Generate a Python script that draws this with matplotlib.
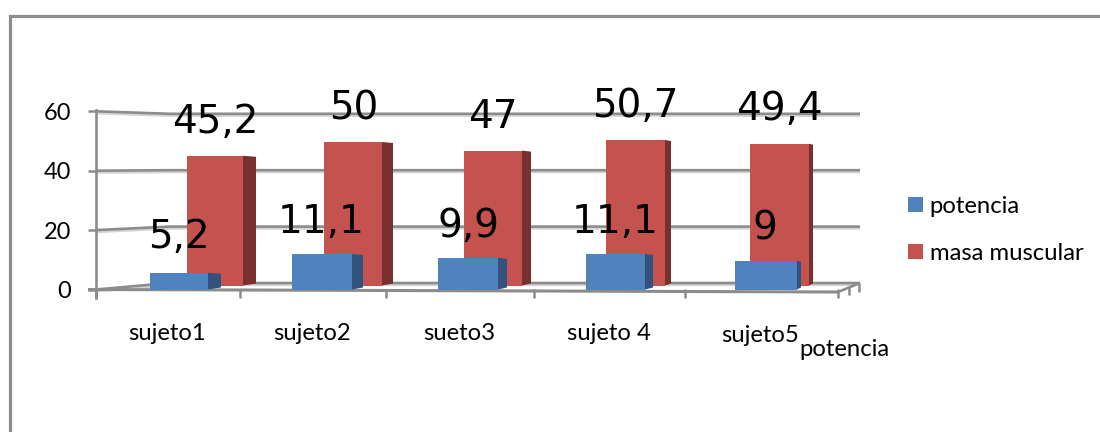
import matplotlib
matplotlib.use("Agg")
import matplotlib.pyplot as plt
from matplotlib.patches import Polygon

# Chart values
subjects = ["sujeto1", "sujeto2", "sueto3", "sujeto 4", "sujeto5"]
potencia = [5.2, 11.1, 9.9, 11.1, 9]
masa_muscular = [45.2, 50, 47, 50.7, 49.4]
potencia_labels = ["5,2", "11,1", "9,9", "11,1", "9"]
masa_labels = ["45,2", "50", "47", "50,7", "49,4"]
y_ticks = [0, 20, 40, 60]

# Layout, in figure pixels measured from the top-left corner
W, H = 1100, 432
BLUE_X = [(150, 208, 221), (292, 352, 363), (438, 498, 507), (586, 645, 653), (735, 797, 801)]
RED_X = [(187, 243, 256), (324, 382, 393), (464, 522, 531), (606, 665, 671), (750, 809, 813)]
BLUE_ZERO, BLUE_SCALE = 289.5, 3.2
RED_ZERO, RED_SCALE = 285.5, 2.87
WALL_ZERO, WALL_SCALE = 283.0, 2.82
FRONT_ZERO, FRONT_SCALE = 289.5, 2.97
X_TICKS = [96, 240, 386, 534, 685, 838]
POT_LABEL_POS = [(179, 248), (321, 233), (468, 237), (615, 233), (765, 240)]
MASA_LABEL_POS = [(215, 133), (354, 120), (493, 128), (635, 117), (779, 120)]
SUBJECT_POS = [(167, 340), (312, 340), (459, 340), (609, 340), (760, 342)]

BLUE, BLUE_DARK = "#5082BE", "#30527D"
RED, RED_DARK = "#C4524F", "#78302E"
GREY, GREY_LIGHT = "#8C8C8C", "#D4D4D4"
UI_FONT = "Lato"
LABEL_FONT = "DejaVu Sans"

fig = plt.figure(figsize=(W / 100, H / 100), dpi=100, facecolor="white")


def layer(zero, scale, zorder):
    """Full-figure axes: x in pixels, y in chart units with the given pixel baseline."""
    ax = fig.add_axes([0, 0, 1, 1], zorder=zorder)
    ax.patch.set_visible(False)
    ax.set_xlim(0, W)
    ax.set_ylim((zero - H) / scale, zero / scale)
    return ax


# Top layer works in plain pixels, for the frame, labels and legend
ax_px = fig.add_axes([0, 0, 1, 1], zorder=4)
ax_px.patch.set_visible(False)
ax_px.set_xlim(0, W)
ax_px.set_ylim(H, 0)
ax_px.axis("off")

# Outer frame
ax_px.plot([9.5, 9.5, W], [H, 16, 16], color=GREY, lw=2.3, solid_joinstyle="miter", clip_on=False)

# Wall layer: value axis, gridlines, floor
ax_wall = layer(FRONT_ZERO, FRONT_SCALE, 1)
px = ax_px.transData


def wall_line(xs, ys, color=GREY, lw=1.9):
    ax_wall.plot(xs, ys, color=color, lw=lw, transform=px, solid_capstyle="butt", clip_on=False)


for v in y_ticks:
    yf = FRONT_ZERO - FRONT_SCALE * v
    yb = WALL_ZERO - WALL_SCALE * v
    xs = [96, 170, 860]
    wall_line(xs, [yf + 2, yb + 2, yb + 2], color=GREY_LIGHT, lw=1.6)
    wall_line(xs, [yf, yb, yb])

# Floor: front edge, right edge and tick marks
wall_line([88, 838], [289.5, 292], lw=2.2)
wall_line([838, 860], [292, 283], lw=1.9)
for x in X_TICKS:
    wall_line([x, x], [289, 298], lw=1.8)
for x, y0, y1 in [(849, 287, 295), (859, 283, 292)]:
    wall_line([x, x], [y0, y1], lw=1.8)

for side in ("top", "right", "bottom"):
    ax_wall.spines[side].set_visible(False)
ax_wall.spines["left"].set_position(("data", 96))
ax_wall.spines["left"].set_color(GREY)
ax_wall.spines["left"].set_linewidth(1.9)
ax_wall.spines["left"].set_bounds((FRONT_ZERO - 298) / FRONT_SCALE, (FRONT_ZERO - 110) / FRONT_SCALE)
ax_wall.set_xticks([])
ax_wall.set_yticks(y_ticks)
ax_wall.tick_params(axis="y", length=5.8, width=1.8, color=GREY, pad=12, labelsize=17)
for t in ax_wall.get_yticklabels():
    t.set_fontfamily(UI_FONT)


def bars_3d(ax, spans, values, scale, face, side, label, lift):
    """Front faces go through ax.bar; the shaded side is a sheared polygon beside each one."""
    lefts = [s[0] for s in spans]
    widths = [s[1] - s[0] for s in spans]
    cont = ax.bar(lefts, values, widths, align="edge", color=face, linewidth=0, label=label)
    for (_, right, far), v in zip(spans, values):
        dy = lift / scale
        ax.add_patch(Polygon(
            [(right, 0), (far, dy), (far, v - 1 / scale), (right, v)],
            closed=True, facecolor=side, edgecolor="none"))
    return cont


ax_red = layer(RED_ZERO, RED_SCALE, 2)
ax_red.axis("off")
red_bars = bars_3d(ax_red, RED_X, masa_muscular, RED_SCALE, RED, RED_DARK, "masa muscular", 2)

ax_blue = layer(BLUE_ZERO, BLUE_SCALE, 3)
ax_blue.axis("off")
blue_bars = bars_3d(ax_blue, BLUE_X, potencia, BLUE_SCALE, BLUE, BLUE_DARK, "potencia", 2)

# Value labels
for (x, y), s in zip(MASA_LABEL_POS + POT_LABEL_POS, masa_labels + potencia_labels):
    ax_px.text(x, y, s, ha="center", va="baseline", fontsize=28, family=LABEL_FONT, color="black")

# Category labels and the stray series label beside the last one
for (x, y), s in zip(SUBJECT_POS, subjects):
    ax_px.text(x, y, s, ha="center", va="baseline", fontsize=17.2, family=UI_FONT, color="black")
ax_px.text(844, 356, "potencia", ha="center", va="baseline", fontsize=17.2, family=UI_FONT, color="black")

# Legend
ax_px.legend(
    handles=[blue_bars, red_bars],
    labels=["potencia", "masa muscular"],
    loc="upper left",
    bbox_to_anchor=(908 / W, 1 - 196 / H),
    bbox_transform=fig.transFigure,
    frameon=False,
    borderaxespad=0,
    borderpad=0,
    prop={"family": UI_FONT, "size": 17.2},
    handlelength=0.63,
    handleheight=0.63,
    handletextpad=0.27,
    labelspacing=1.08,
)

fig.savefig("out.png", dpi=100, facecolor="white")
